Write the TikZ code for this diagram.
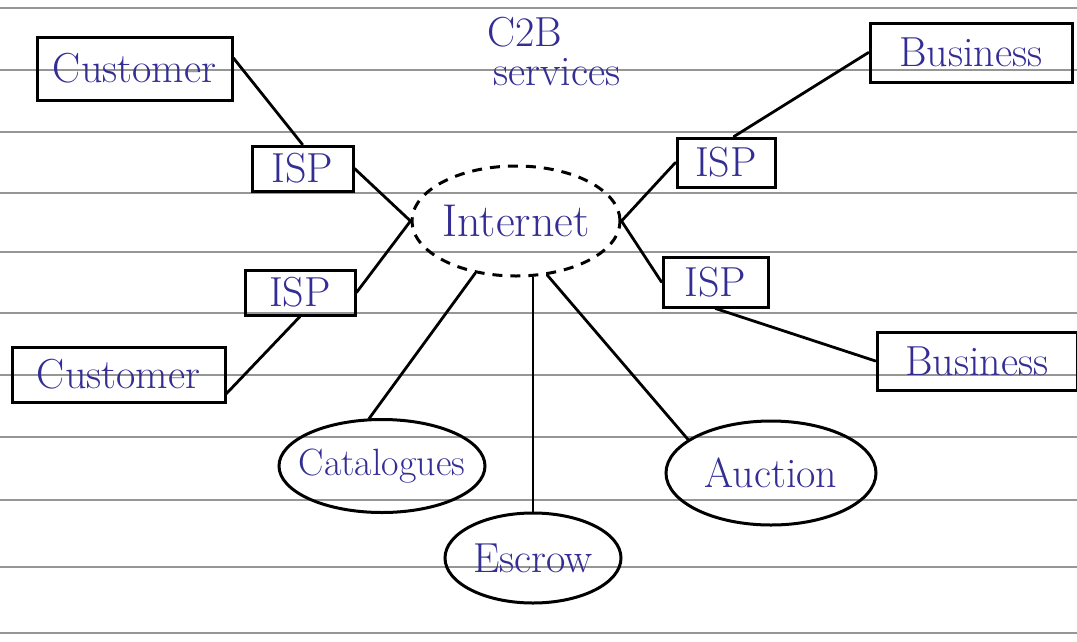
\documentclass[tikz,border=0pt]{standalone}
\usepackage{tikz}
\usetikzlibrary{shapes.geometric}
\definecolor{ink}{RGB}{52,46,148}
\definecolor{rule}{RGB}{150,150,150}

\begin{document}
\begin{tikzpicture}[x=1pt, y=-1pt,
      every node/.style={text=ink, font=\fontsize{42}{48}\selectfont, inner sep=0pt},
      tag/.style 2 args={draw=black, line width=3pt, minimum width=#1, minimum height=#2},
      bubble/.style 2 args={ellipse, draw=black, line width=3pt, minimum width=#1, minimum height=#2},
      cloudy/.style={ellipse, draw=black, line width=3pt, dash pattern=on 10pt off 8pt,
        minimum width=196, minimum height=110},
      link/.style={draw=black, line width=2.8pt, line cap=round}]
  \useasboundingbox (0,0) rectangle (1077,641);
  \fill[white] (0,0) rectangle (1077,641);
  \foreach \y in {8,70,132,193,252,313,375,437,500,567,633}
    \draw[rule, line width=1.4pt] (0,\y) -- (1077,\y);

  \node (c2b) at (525,32) {C2B};
  \node (svc) at (557,72) {services};

  \node [cloudy, font=\fontsize{46}{52}\selectfont] (net) at (516,221) {Internet};

  \node [tag={195}{63}] (cust1) at (134.5,68.5) {Customer};
  \node [tag={101}{45}] (ispA) at (302.5,168.5) {ISP};
  \node [tag={110}{45}] (ispB) at (300,292.5) {ISP};
  \node [tag={213}{55}] (cust2) at (118.5,374.5) {Customer};

  \node [tag={202}{59}] (bus1) at (971,52.5) {Business};
  \node [tag={98}{49}] (ispC) at (726,162.5) {ISP};
  \node [tag={105}{50}] (ispD) at (715.5,282) {ISP};
  \node [tag={200}{58}] (bus2) at (977,361) {Business};

  \node [bubble={206}{93}, inner xsep=-24pt, font=\fontsize{38}{44}\selectfont] (cat) at (382,466) {Catalogues};
  \node [bubble={176}{90}] (esc) at (533,558) {Escrow};
  \node [bubble={210}{104}] (auc) at (771,473) {Auction};

  \draw [link] (cust1.6) -- (ispA.north);
  \draw [link] (ispA.east) -- (net.west);
  \draw [link] (ispB.east) -- (net.west);
  \draw [link] (cust2.-10) -- (ispB.south);
  \draw [link] (net.east) -- (ispC.west);
  \draw [link] ([xshift=8pt]ispC.north) -- (bus1.west);
  \draw [link] (net.east) -- (ispD.west);
  \draw [link] (ispD.south) -- (bus2.west);
  \draw [link] (net.232) -- (cat.105);
  \draw [link] (esc.north |- net.south) -- (esc.north);
  \draw [link] (net.300) -- (auc.158);
\end{tikzpicture}
\end{document}
